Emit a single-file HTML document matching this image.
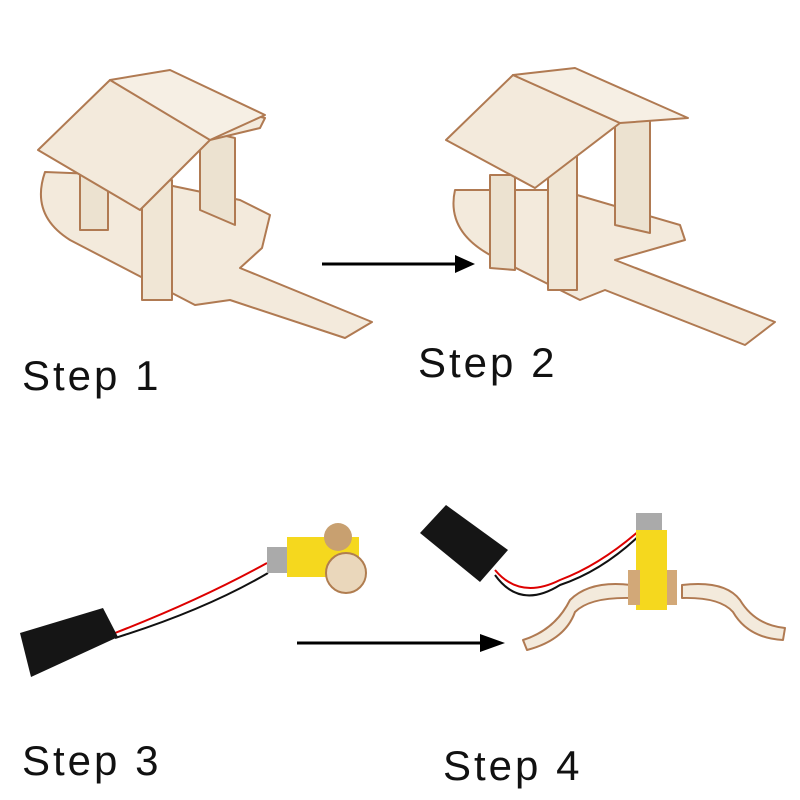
<!DOCTYPE html><html><head><style>body{margin:0;background:#fff}svg{display:block}text{font-family:"Liberation Sans",sans-serif;font-size:42px;letter-spacing:3px;fill:#111}</style></head><body>
<svg width="800" height="800" viewBox="0 0 800 800">
<g stroke="#b07a52" stroke-width="2" fill="#f3eadc" stroke-linejoin="round">
<path d="M45,172 Q30,215 70,240 L195,305 L230,300 L345,338 L372,322 L240,268 L262,248 L270,215 L240,200 L120,175 Z"/>
<rect x="80" y="150" width="28" height="80" fill="#ece2d0"/>
<polygon points="142,185 172,180 172,300 142,300" fill="#f0e6d5"/>
<polygon points="200,130 235,138 235,225 200,210" fill="#ece2d0"/>
<path d="M38,150 L110,80 L265,118 L260,128 L210,140 L140,210 Z"/>
<path d="M110,80 L170,70 L265,115 L210,140 Z" fill="#f6efe4"/>
<path d="M455,190 Q445,235 500,260 L580,300 L605,290 L745,345 L775,322 L615,260 L685,240 L680,225 L560,190 Z"/>
<polygon points="490,175 515,175 515,270 490,268" fill="#ece2d0"/>
<polygon points="548,150 577,150 577,290 548,290" fill="#f0e6d5"/>
<polygon points="615,120 650,120 650,233 615,225" fill="#ece2d0"/>
<path d="M446,140 L513,75 L620,123 L535,188 Z"/>
<path d="M513,75 L575,68 L688,118 L620,123 Z" fill="#f6efe4"/>
<path d="M631,585 Q590,580 570,600 Q555,630 523,640 L527,650 Q565,640 575,612 Q590,597 631,598 Z"/>
<path d="M682,585 Q725,580 740,600 Q755,625 785,628 L783,640 Q748,638 733,612 Q720,597 682,598 Z"/>
</g>
<line x1="322" y1="264" x2="458" y2="264" stroke="#000" stroke-width="3"/><path d="M455,255 L475,264 L455,273z"/>
<line x1="297" y1="643" x2="485" y2="643" stroke="#000" stroke-width="3"/><path d="M480,634 L505,643 L480,652z"/>
<path d="M115,633 Q200,600 267,563" stroke="#d00" stroke-width="2" fill="none"/>
<path d="M115,638 Q205,610 268,573" stroke="#111" stroke-width="2" fill="none"/>
<polygon points="20,633 103,608 118,637 31,677" fill="#151515"/>
<rect x="267" y="547" width="22" height="26" fill="#aaa"/>
<rect x="287" y="537" width="72" height="40" fill="#f5d81e"/>
<circle cx="338" cy="537" r="14" fill="#c8a070"/>
<circle cx="346" cy="573" r="20" fill="#ead7bb" stroke="#b07d50" stroke-width="2"/>
<path d="M495,570 Q520,600 560,580 Q600,565 640,530" stroke="#d00" stroke-width="2" fill="none"/>
<path d="M495,575 Q520,610 560,585 Q605,570 645,530" stroke="#111" stroke-width="2" fill="none"/>
<polygon points="420,533 446,505 508,550 480,582" fill="#151515"/>
<rect x="636" y="513" width="26" height="18" fill="#aaa"/>
<rect x="636" y="530" width="31" height="80" fill="#f5d81e"/>
<rect x="628" y="570" width="12" height="35" fill="#d2a878"/>
<rect x="667" y="570" width="10" height="35" fill="#d2a878"/>
<text x="22" y="390">Step 1</text>
<text x="418" y="377">Step 2</text>
<text x="22" y="775">Step 3</text>
<text x="443" y="780">Step 4</text>
</svg></body></html>
